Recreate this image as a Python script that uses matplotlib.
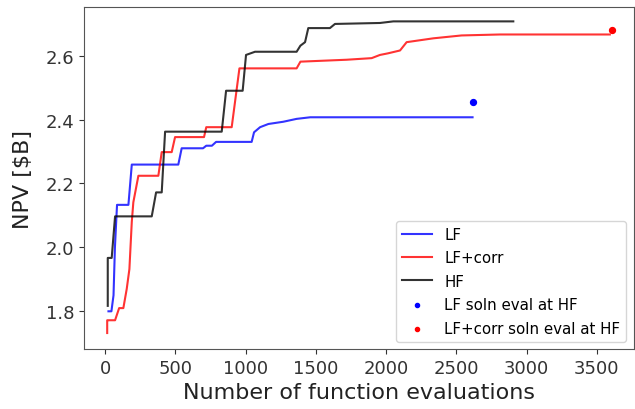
import numpy as np
import matplotlib
matplotlib.use("Agg")
import matplotlib.pyplot as plt

# best NPV found so far vs number of function evaluations
lf_evals = [24, 45, 60, 70, 85, 128, 135, 166, 190, 521, 545, 697, 720, 760, 790,
            1043, 1060, 1103, 1162, 1268, 1363, 1460, 2615]
lf_npv = [1.80, 1.80, 1.85, 2.00, 2.133, 2.133, 2.133, 2.133, 2.259, 2.259, 2.31, 2.31,
          2.318, 2.318, 2.33, 2.33, 2.36, 2.376, 2.386, 2.393, 2.402, 2.407, 2.407]

lfc_evals = [15, 15, 20, 71, 100, 130, 154, 173, 190, 201, 237, 379, 403, 474, 498,
             704, 720, 901, 956, 1363, 1390, 1719, 1897, 1956, 2013, 2099, 2146,
             2336, 2537, 2810, 3592]
lfc_npv = [1.732, 1.772, 1.772, 1.772, 1.81, 1.81, 1.87, 1.932, 2.08, 2.141, 2.224,
           2.224, 2.298, 2.298, 2.345, 2.345, 2.376, 2.376, 2.56, 2.56, 2.581, 2.587,
           2.592, 2.602, 2.607, 2.616, 2.642, 2.654, 2.663, 2.666, 2.666]

hf_evals = [19, 19, 47, 71, 332, 363, 403, 427, 830, 861, 979, 1003, 1067, 1363,
            1390, 1423, 1446, 1600, 1636, 1956, 2051, 2905]
hf_npv = [1.817, 1.967, 1.967, 2.097, 2.097, 2.172, 2.172, 2.362, 2.362, 2.49, 2.49,
          2.602, 2.612, 2.612, 2.631, 2.642, 2.686, 2.686, 2.699, 2.702, 2.707, 2.707]

# LF optima re-evaluated with the HF model
lf_soln_evals = [2615]
lf_soln_npv = [2.454]
lfc_soln_evals = [3604]
lfc_soln_npv = [2.681]

fig = plt.figure(figsize=(6.35, 4.10), dpi=100)
ax = fig.add_axes([0.1323, 0.1463, 0.8657, 0.8342])

ax.plot(lf_evals, lf_npv, color='b', alpha=0.8, lw=1.5, label='LF')
ax.plot(lfc_evals, lfc_npv, color='r', alpha=0.8, lw=1.5, label='LF+corr')
ax.plot(hf_evals, hf_npv, color='k', alpha=0.8, lw=1.5, label='HF')
ax.scatter(lf_soln_evals, lf_soln_npv, color='b', s=18, label='LF soln eval at HF')
ax.scatter(lfc_soln_evals, lfc_soln_npv, color='r', s=18, label='LF+corr soln eval at HF')

ax.set_xlim(-150, 3762)
ax.set_ylim(1.682, 2.752)
ax.set_xticks([0, 500, 1000, 1500, 2000, 2500, 3000, 3500])
ax.set_yticks([1.8, 2.0, 2.2, 2.4, 2.6])
ax.tick_params(labelsize=13, colors='#333333')
for s in ax.spines.values():
    s.set_color('#555555')

ax.set_xlabel('Number of function evaluations', fontsize=16, color='#222222')
ax.set_ylabel('NPV [$B]', fontsize=16, color='#222222', labelpad=9)
ax.legend(loc='lower right', fontsize=10.8, labelspacing=0.56, markerscale=0.7)

fig.savefig('out.png', dpi=100)
